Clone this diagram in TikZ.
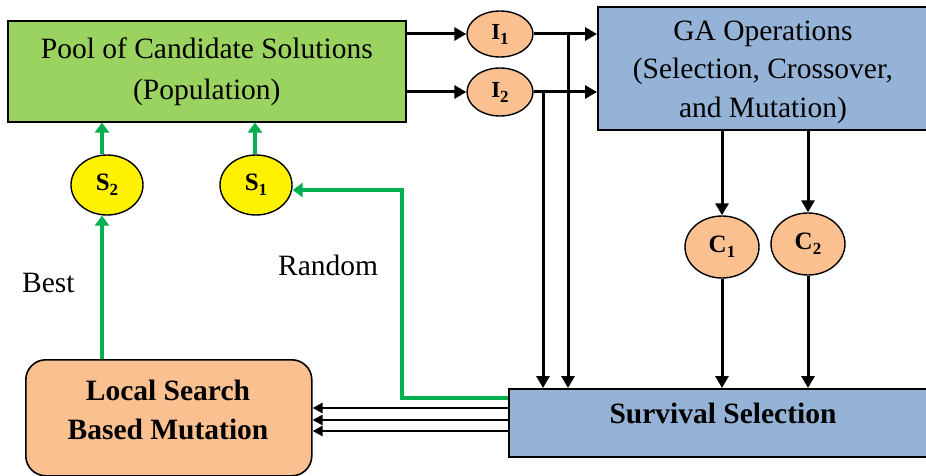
\documentclass[tikz,border=0pt]{standalone}
\usepackage{fontspec}
\setmainfont{Liberation Serif}
\usetikzlibrary{shapes.geometric,arrows.meta}

\definecolor{poolgreen}{RGB}{155,211,96}
\definecolor{opblue}{RGB}{149,179,215}
\definecolor{peach}{RGB}{250,192,144}
\definecolor{linkgreen}{RGB}{0,176,80}

% bold label with a lowered index
\newcommand\elab[2]{#1\raisebox{-5pt}{\fontsize{17}{17}\selectfont #2}}

\begin{document}
\begin{tikzpicture}[x=1pt,y=-1pt,
  bigtext/.style={font=\fontsize{29.5}{40}\selectfont, align=center, inner sep=0pt},
  boldtext/.style={bigtext, font=\fontsize{29.5}{39}\selectfont\bfseries},
  box/.style={draw=black, line width=1.6pt, inner sep=0pt, anchor=north west},
  blob/.style={ellipse, draw=black, line width=1.4pt, inner sep=0pt,
               font=\fontsize{25}{28}\selectfont\bfseries},
  smallblob/.style={blob, font=\fontsize{23}{26}\selectfont\bfseries},
  arr/.style={line width=3pt, -{Triangle[length=12pt,width=13pt]}},
  thinarr/.style={line width=2.8pt, -{Triangle[length=10pt,width=10pt]}},
  garr/.style={draw=linkgreen, line width=4pt,
               -{Triangle[length=10pt,width=14pt]}},
]
\useasboundingbox (0,0) rectangle (926,476);
\clip (0,0) rectangle (926,476);

% boxes
\node[box, fill=poolgreen, minimum width=398pt, minimum height=101pt,
      bigtext, font=\fontsize{29.5}{41}\selectfont] (pool) at (7,20)
      {Pool of Candidate Solutions\\(Population)};
\node[box, fill=opblue, minimum width=340pt, minimum height=123pt] (ga) at (597,6) {};
\node[bigtext, font=\fontsize{29.5}{38.5}\selectfont] (gatext) at (763,72)
      {GA Operations\\(Selection, Crossover,\\and Mutation)};
\node[box, fill=opblue, minimum width=430pt, minimum height=68pt] (surv) at (508,388) {};
\node[boldtext] (survtext) at (723,413) {Survival Selection};
\node[box, fill=peach, rounded corners=20pt, minimum width=286pt,
      minimum height=116pt] (ls) at (25,359) {};
\node[boldtext] (lstext) at (168,410) {Local Search\\Based Mutation};

% ellipses
\node[smallblob, fill=peach, minimum width=66pt, minimum height=46pt] (I1) at (500,34) {\elab{I}{1}};
\node[smallblob, fill=peach, minimum width=66pt, minimum height=48pt] (I2) at (500,92) {\elab{I}{2}};
\node[blob, fill=peach, minimum width=74pt, minimum height=62pt] (C1) at (722,247) {\elab{C}{1}};
\node[blob, fill=peach, minimum width=74pt, minimum height=62pt] (C2) at (808,244) {\elab{C}{2}};
\node[blob, fill=yellow, minimum width=72pt, minimum height=60pt] (S2) at (107,185) {\elab{S}{2}};
\node[blob, fill=yellow, minimum width=72pt, minimum height=60pt] (S1) at (256,185) {\elab{S}{1}};

% plain labels
\node[bigtext, anchor=base west] (best) at (22,292) {Best};
\node[bigtext, anchor=base west] (random) at (278,275) {Random};

% routing points
\coordinate (j1) at (568,0);
\coordinate (j2) at (543,0);
\coordinate (b1) at (0,408);
\coordinate (b2) at (0,420);
\coordinate (b3) at (0,431);
\coordinate (sx2) at (102,0);
\coordinate (sx1) at (255,0);
\coordinate (rlow) at (402,398);
\coordinate (rhigh) at (402,190);

% population to individuals to GA operations
\draw[arr] (pool.east |- I1.west) -- (I1.west);
\draw[arr] (pool.east |- I2.west) -- (I2.west);
\draw[arr] (I1.east) -- (ga.west |- I1.east);
\draw[arr] (I2.east) -- (ga.west |- I2.east);

% parents passed straight to survival selection
\draw[arr] (I1.east -| j1) -- (surv.north -| j1);
\draw[arr] (I2.east -| j2) -- (surv.north -| j2);

% offspring
\draw[arr] (ga.south -| C1.north) -- (C1.north);
\draw[arr] (ga.south -| C2.north) -- (C2.north);
\draw[arr] (C1.south) -- (surv.north -| C1.south);
\draw[arr] (C2.south) -- (surv.north -| C2.south);

% survivors to local search
\draw[thinarr] (surv.west |- b1) -- (ls.east |- b1);
\draw[thinarr] (surv.west |- b2) -- (ls.east |- b2);
\draw[thinarr] (surv.west |- b3) -- (ls.east |- b3);

% green feedback paths
\draw[garr] (ls.north -| sx2) -- (S2.south -| sx2);
\draw[garr] (S2.north -| sx2) -- (pool.south -| sx2);
\draw[garr] (S1.north -| sx1) -- (pool.south -| sx1);
\draw[garr] (surv.west |- rlow) -- (rlow) -- (rhigh) -- (S1.east |- rhigh);
\end{tikzpicture}
\end{document}
